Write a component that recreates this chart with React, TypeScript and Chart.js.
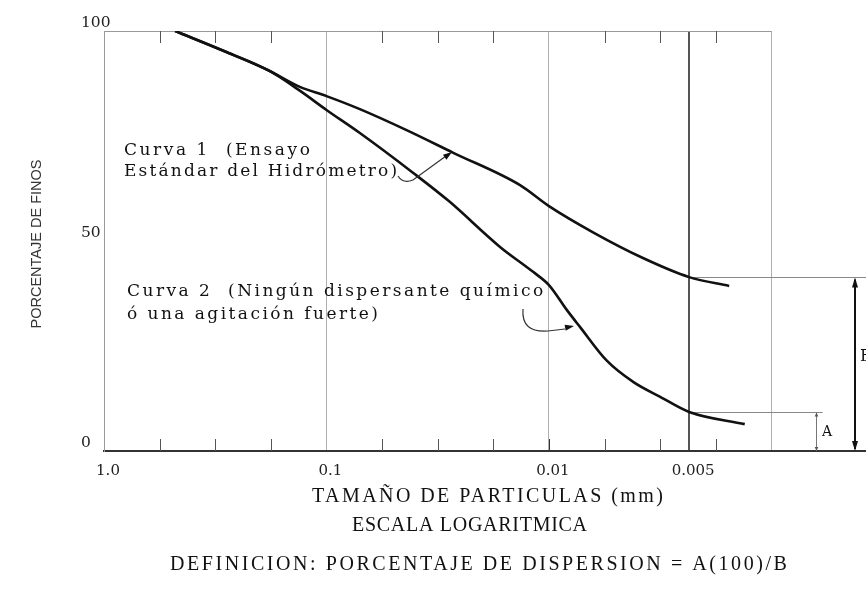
import React, { useEffect, useRef } from "react";
import { Chart, registerables } from "chart.js";

Chart.register(...registerables);

// x = position on the logarithmic axis, in decades below 1.0 mm (0 -> 1.0 mm, 1 -> 0.1 mm, 2 -> 0.01 mm)
// y = porcentaje de finos
const CURVE1_X = [0.32, 0.55, 0.74, 0.88, 1.0, 1.15, 1.36, 1.57, 1.87, 2.0, 2.2, 2.42, 2.63, 2.81];
const CURVE1_Y = [100, 95, 90.6, 86.7, 84.5, 81.4, 76.4, 71, 63.3, 58.3, 52, 46, 41.4, 39.3];

const CURVE2_X = [0.32, 0.55, 0.74, 0.88, 1.0, 1.15, 1.39, 1.55, 1.78, 1.93, 2.0, 2.08, 2.14, 2.26, 2.38, 2.5, 2.63, 2.88];
const CURVE2_Y = [100, 95, 90.6, 85.8, 81.2, 75.7, 66.2, 59.5, 48.6, 42.6, 39.5, 33.6, 29.5, 21.5, 16.4, 12.9, 9.3, 6.4];

const X_TICK_VALUES = [0, 1, 2, 2.63, 3];
const X_TICK_LABELS = ["1.0", "0.1", "0.01", "0.005", ""];
const X_MINOR_TICKS = [0.25, 0.5, 0.75, 1.25, 1.5, 1.75, 2.25, 2.5, 2.75];
const Y_TICK_VALUES = [0, 50, 100];

const REF_X = 2.63; // 0.005 mm line
const A_VALUE = CURVE2_Y[CURVE2_X.indexOf(REF_X)];
const B_VALUE = CURVE1_Y[CURVE1_X.indexOf(REF_X)];
const A_DIM_X = 3.2;
const A_LINE_END = 3.23;
const B_DIM_X = 3.375;

const CURVE1_TEXT = ["Curva 1  (Ensayo", "Estándar del Hidrómetro)"];
const CURVE2_TEXT = ["Curva 2  (Ningún dispersante químico", "ó una agitación fuerte)"];
const X_TITLE = ["TAMAÑO DE PARTICULAS (mm)", "ESCALA LOGARITMICA"];
const DEFINITION = "DEFINICION: PORCENTAJE DE DISPERSION = A(100)/B";
const Y_TITLE = "PORCENTAJE DE FINOS";

function fitText(ctx: CanvasRenderingContext2D, text: string, x: number, y: number, width: number, font: string, color: string) {
  ctx.save();
  ctx.font = font;
  ctx.fillStyle = color;
  ctx.textBaseline = "middle";
  ctx.textAlign = "left";
  (ctx as any).letterSpacing = "0px";
  const w = ctx.measureText(text).width;
  const sp = (width - w) / Math.max(1, text.length - 1);
  (ctx as any).letterSpacing = sp.toFixed(2) + "px";
  ctx.fillText(text, x, y);
  ctx.restore();
}

function arrowHead(ctx: CanvasRenderingContext2D, fromX: number, fromY: number, toX: number, toY: number, len: number, half: number) {
  const a = Math.atan2(toY - fromY, toX - fromX);
  ctx.beginPath();
  ctx.moveTo(toX, toY);
  ctx.lineTo(toX - len * Math.cos(a) + half * Math.sin(a), toY - len * Math.sin(a) - half * Math.cos(a));
  ctx.lineTo(toX - len * Math.cos(a) - half * Math.sin(a), toY - len * Math.sin(a) + half * Math.cos(a));
  ctx.closePath();
  ctx.fill();
}

function line(ctx: CanvasRenderingContext2D, x1: number, y1: number, x2: number, y2: number) {
  ctx.beginPath();
  ctx.moveTo(x1, y1);
  ctx.lineTo(x2, y2);
  ctx.stroke();
}

const overlay = {
  id: "overlay",
  beforeDatasetsDraw(chart: any) {
    const { ctx, scales } = chart;
    const x = scales.x, y = scales.y;
    const top = y.getPixelForValue(100);
    const bottom = y.getPixelForValue(0);
    ctx.save();
    // top frame line
    ctx.strokeStyle = "#999";
    ctx.lineWidth = 1;
    line(ctx, x.getPixelForValue(0), top + 0.5, x.getPixelForValue(3), top + 0.5);
    // minor ticks top and bottom
    ctx.strokeStyle = "#555";
    for (const v of X_MINOR_TICKS) {
      const px = Math.round(x.getPixelForValue(v)) + 0.5;
      line(ctx, px, top, px, top + 12);
      line(ctx, px, bottom, px, bottom - 12);
    }
    const dk = Math.round(x.getPixelForValue(2)) + 0.5;
    ctx.strokeStyle = "#333";
    line(ctx, dk, bottom, dk, bottom - 12);

    const xr = x.getPixelForValue(REF_X);
    const yB = Math.round(y.getPixelForValue(B_VALUE)) + 0.5;
    const yA = Math.round(y.getPixelForValue(A_VALUE)) + 0.5;
    // reference horizontals
    ctx.strokeStyle = "#888";
    line(ctx, xr, yB, chart.width, yB);
    line(ctx, xr, yA, x.getPixelForValue(A_LINE_END), yA);
    // A dimension
    const xa = Math.round(x.getPixelForValue(A_DIM_X)) + 0.5;
    ctx.strokeStyle = "#777";
    ctx.fillStyle = "#555";
    line(ctx, xa, yA, xa, bottom);
    arrowHead(ctx, xa, yA + 10, xa, yA, 4, 1.8);
    arrowHead(ctx, xa, bottom - 10, xa, bottom, 4, 1.8);
    // B dimension
    const xb = Math.round(x.getPixelForValue(B_DIM_X));
    ctx.strokeStyle = "#111";
    ctx.fillStyle = "#111";
    ctx.lineWidth = 2;
    line(ctx, xb, yB + 2, xb, bottom - 2);
    arrowHead(ctx, xb, yB + 20, xb, yB, 10, 3);
    arrowHead(ctx, xb, bottom - 20, xb, bottom, 10, 3);
    ctx.restore();
  },
  afterDatasetsDraw(chart: any) {
    const { ctx } = chart;
    ctx.save();
    // arrow for curve 1
    ctx.strokeStyle = "#333";
    ctx.fillStyle = "#111";
    ctx.lineWidth = 1.2;
    ctx.beginPath();
    ctx.moveTo(398, 176);
    ctx.quadraticCurveTo(403, 184, 413, 180);
    ctx.lineTo(446, 156);
    ctx.stroke();
    arrowHead(ctx, 413, 180, 452, 152, 9, 3);
    // arrow for curve 2
    ctx.beginPath();
    ctx.moveTo(523, 309);
    ctx.quadraticCurveTo(521, 333, 548, 331);
    ctx.lineTo(565, 329);
    ctx.stroke();
    arrowHead(ctx, 548, 331, 574, 326, 9, 3);
    ctx.restore();

    const serif = "'DejaVu Serif', serif";
    fitText(ctx, CURVE1_TEXT[0], 124, 151, 186, `17px ${serif}`, "#111");
    fitText(ctx, CURVE1_TEXT[1], 124, 172, 273, `17px ${serif}`, "#111");
    fitText(ctx, CURVE2_TEXT[0], 127, 292, 416, `17px ${serif}`, "#111");
    fitText(ctx, CURVE2_TEXT[1], 127, 315, 251, `17px ${serif}`, "#111");

    const times = "'Liberation Serif', serif";
    fitText(ctx, X_TITLE[0], 312, 497, 351, `20px ${times}`, "#111");
    fitText(ctx, X_TITLE[1], 352, 526, 235, `20px ${times}`, "#111");
    fitText(ctx, DEFINITION, 170, 565, 617, `20px ${times}`, "#111");

    ctx.save();
    ctx.fillStyle = "#111";
    ctx.font = `14px ${serif}`;
    ctx.textBaseline = "middle";
    ctx.fillText("A", 822, 432);
    ctx.font = `16px ${serif}`;
    ctx.fillText("B", 860, 357);
    // y title
    ctx.translate(37, 244);
    ctx.rotate(-Math.PI / 2);
    ctx.font = "14.5px 'Liberation Sans', Arial, sans-serif";
    ctx.fillStyle = "#333";
    ctx.textAlign = "center";
    ctx.fillText(Y_TITLE, 0, 0);
    ctx.restore();
  },
};

export default function App() {
  const ref = useRef<HTMLCanvasElement | null>(null);
  useEffect(() => {
    document.body.style.margin = "0";
    document.body.style.overflow = "hidden";
    const canvas = ref.current;
    if (!canvas) return;
    const tickFont = { family: "'DejaVu Serif', serif", size: 15 };
    const chart = new Chart(canvas, {
      type: "line",
      data: {
        datasets: [
          {
            label: "Curva 1",
            data: CURVE1_X.map((x, i) => ({ x, y: CURVE1_Y[i] })),
            borderColor: "#111",
            borderWidth: 2.6,
            pointRadius: 0,
            tension: 0.4,
            cubicInterpolationMode: "monotone",
            fill: false,
          },
          {
            label: "Curva 2",
            data: CURVE2_X.map((x, i) => ({ x, y: CURVE2_Y[i] })),
            borderColor: "#111",
            borderWidth: 2.6,
            pointRadius: 0,
            tension: 0.4,
            cubicInterpolationMode: "monotone",
            fill: false,
          },
        ],
      },
      options: {
        animation: false,
        responsive: true,
        maintainAspectRatio: false,
        layout: { padding: { left: 81, right: 0, top: 31, bottom: 109 } },
        plugins: {
          legend: { display: false },
          tooltip: { enabled: false },
          title: { display: false },
        },
        scales: {
          x: {
            type: "linear",
            min: 0,
            max: 3.425,
            afterBuildTicks: (s: any) => {
              s.ticks = X_TICK_VALUES.map((v) => ({ value: v }));
            },
            afterFit: (s: any) => {
              s.height = 30;
            },
            grid: {
              drawTicks: false,
              color: (c: any) => (c.tick && c.tick.value === REF_X ? "#555" : "#b0b0b0"),
              lineWidth: (c: any) => (c.tick && c.tick.value === REF_X ? 2 : 1),
            },
            border: { display: true, color: "#333", width: 2 },
            ticks: {
              autoSkip: false,
              maxRotation: 0,
              padding: 11,
              labelOffset: 4,
              font: tickFont,
              color: "#222",
              callback: (v: any) => {
                const i = X_TICK_VALUES.indexOf(Number(v));
                return i >= 0 ? X_TICK_LABELS[i] : "";
              },
            },
          },
          y: {
            type: "linear",
            min: 0,
            max: 100,
            afterBuildTicks: (s: any) => {
              s.ticks = Y_TICK_VALUES.map((v) => ({ value: v }));
            },
            afterFit: (s: any) => {
              s.width = 23;
            },
            grid: { display: false, drawTicks: false },
            border: { display: true, color: "#999", width: 1 },
            ticks: {
              mirror: true,
              padding: -23,
              labelOffset: -8,
              font: { family: "'DejaVu Serif', serif", size: 15.5 },
              color: "#222",
              callback: (v: any) => String(v),
            },
          },
        },
      },
      plugins: [overlay],
    } as any);
    return () => chart.destroy();
  }, []);
  return (
    <div style={{ width: 866, height: 590, position: "relative", background: "#fff" }}>
      <canvas ref={ref} />
    </div>
  );
}
